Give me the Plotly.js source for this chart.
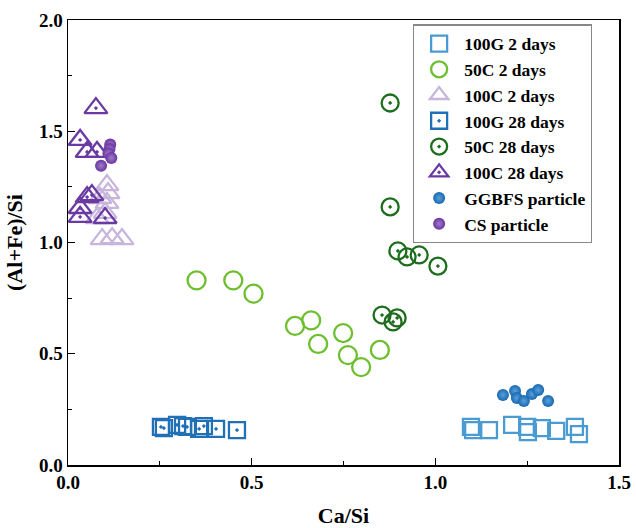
<!DOCTYPE html>
<html>
<head>
<meta charset="utf-8">
<script src="https://cdn.plot.ly/plotly-3.0.1.min.js"></script>
<style>html,body{margin:0;padding:0;background:#fff;}#chart{width:636px;height:528px;}</style>
</head>
<body>
<div id="chart"></div>
<script>
// Data
const g2_x = [1.097, 1.103, 1.146, 1.209, 1.250, 1.252, 1.290, 1.329, 1.380, 1.391];
const g2_y = [0.171, 0.157, 0.157, 0.180, 0.171, 0.148, 0.166, 0.153, 0.171, 0.139];

const c50_2_x = [0.350, 0.450, 0.505, 0.618, 0.662, 0.681, 0.749, 0.762, 0.798, 0.849];
const c50_2_y = [0.830, 0.830, 0.770, 0.625, 0.650, 0.544, 0.593, 0.494, 0.440, 0.517];

const c100_2_x = [0.106, 0.109, 0.087, 0.106, 0.101, 0.079, 0.093, 0.120, 0.147];
const c100_2_y = [1.258, 1.222, 1.200, 1.178, 1.133, 1.110, 1.015, 1.020, 1.015];

const g28_x = [0.253, 0.261, 0.297, 0.313, 0.324, 0.357, 0.370, 0.403, 0.460];
const g28_y = [0.171, 0.166, 0.180, 0.175, 0.171, 0.162, 0.175, 0.162, 0.157];

const c50_28_x = [0.877, 0.877, 0.898, 0.923, 0.956, 1.007, 0.855, 0.885, 0.896];
const c50_28_y = [1.627, 1.160, 0.962, 0.935, 0.944, 0.894, 0.674, 0.643, 0.661];

const c100_28_x = [0.076, 0.033, 0.052, 0.079, 0.052, 0.065, 0.033, 0.033, 0.101];
const c100_28_y = [1.604, 1.461, 1.407, 1.407, 1.204, 1.213, 1.155, 1.115, 1.110];

const ggbfs_x = [1.184, 1.217, 1.222, 1.241, 1.263, 1.280, 1.307];
const ggbfs_y = [0.315, 0.333, 0.301, 0.288, 0.319, 0.337, 0.288];

const cs_x = [0.115, 0.113, 0.110, 0.118, 0.090];
const cs_y = [1.440, 1.420, 1.400, 1.380, 1.345];

const names = ["100G 2 days", "50C 2 days", "100C 2 days", "100G 28 days",
               "50C 28 days", "100C 28 days", "GGBFS particle", "CS particle"];

function openTrace(x, y, name, symbol, color, size) {
  return {x: x, y: y, name: name, type: 'scatter', mode: 'markers',
    marker: {symbol: symbol, size: size, color: color, line: {color: color, width: 2.3}}};
}
function sphere(x, y, name, color, hi) {
  return {x: x, y: y, name: name, type: 'scatter', mode: 'markers',
    marker: {symbol: 'circle', size: 12, color: color,
      gradient: {type: 'radial', color: hi}, line: {width: 0}}};
}

const traces = [
  openTrace(g2_x, g2_y, names[0], 'square-open', '#4a9bd1', 16),
  openTrace(c50_2_x, c50_2_y, names[1], 'circle-open', '#6dbf2e', 18),
  openTrace(c100_2_x, c100_2_y, names[2], 'triangle-up-open', '#c7b5dc', 20),
  openTrace(g28_x, g28_y, names[3], 'square-open-dot', '#2170b5', 16),
  openTrace(c50_28_x, c50_28_y, names[4], 'circle-open-dot', '#1c6e1c', 17),
  openTrace(c100_28_x, c100_28_y, names[5], 'triangle-up-open-dot', '#6a3aa2', 20),
  sphere(ggbfs_x, ggbfs_y, names[6], '#1868b0', '#5aa0dc'),
  sphere(cs_x, cs_y, names[7], '#6a35a0', '#a07cc8')
];

const fontFam = '"Liberation Serif", "Times New Roman", serif';
const axisCommon = {
  showgrid: false, zeroline: false, showline: true, linecolor: '#000', linewidth: 1.5,
  mirror: true, ticks: 'inside', ticklen: 7, tickwidth: 1.3, tickcolor: '#000',
  tickfont: {family: fontFam, size: 19, color: '#000', weight: 'bold'},
};

const layout = {
  width: 636, height: 528,
  margin: {l: 68, r: 17, t: 20, b: 63},
  paper_bgcolor: '#fff', plot_bgcolor: '#fff',
  font: {family: fontFam, color: '#000'},
  xaxis: Object.assign({}, axisCommon, {
    range: [0, 1.5], tickvals: [0, 0.5, 1.0, 1.5], ticktext: ['0.0', '0.5', '1.0', '1.5'],
    minor: {ticks: 'inside', ticklen: 4, tickwidth: 1.2, tickcolor: '#000', dtick: 0.25},
    title: {text: 'Ca/Si', font: {family: fontFam, size: 22, color: '#000', weight: 'bold'}, standoff: 20}
  }),
  yaxis: Object.assign({}, axisCommon, {
    range: [0, 2.0], tickvals: [0, 0.5, 1.0, 1.5, 2.0], ticktext: ['0.0', '0.5', '1.0', '1.5', '2.0'],
    minor: {ticks: 'inside', ticklen: 4, tickwidth: 1.2, tickcolor: '#000', dtick: 0.25},
    title: {text: '(Al+Fe)/Si', font: {family: fontFam, size: 22, color: '#000', weight: 'bold'}, standoff: 10}
  }),
  showlegend: true,
  legend: {
    x: 0.626, y: 0.99, xanchor: 'left', yanchor: 'top',
    bordercolor: '#888', borderwidth: 1.2, bgcolor: '#fff',
    font: {family: fontFam, size: 17.5, color: '#000', weight: 'bold'},
    itemwidth: 40, tracegroupgap: 0
  }
};

Plotly.newPlot('chart', traces, layout, {displayModeBar: false, staticPlot: true});
</script>
</body>
</html>
